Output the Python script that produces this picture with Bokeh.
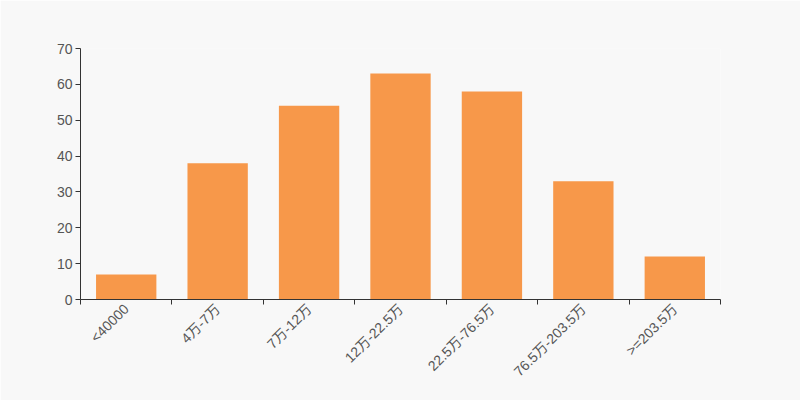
import math
from bokeh.plotting import figure
from bokeh.models import Range1d, FixedTicker, ColumnDataSource
from bokeh.embed import file_html
from bokeh.resources import INLINE

categories = ["<40000", "4万-7万", "7万-12万", "12万-22.5万", "22.5万-76.5万", "76.5万-203.5万", ">=203.5万"]
values = [7, 38, 54, 63, 58, 33, 12]
y_ticks = [0, 10, 20, 30, 40, 50, 60, 70]

n = len(categories)
centers = [i + 0.5 for i in range(n)]
bounds = list(range(n + 1))

src = ColumnDataSource(dict(x=centers, top=values, cat=categories))

p = figure(width=800, height=400, output_backend="svg", toolbar_location=None,
           x_range=Range1d(0, n), y_range=Range1d(0, 70),
           min_border_left=80, min_border_right=80, min_border_top=48, min_border_bottom=101)
p.background_fill_color = "#f8f8f8"
p.border_fill_color = "#f8f8f8"
p.outline_line_color = None
p.xgrid.visible = False
p.ygrid.visible = False

p.vbar(x="x", top="top", width=0.66, bottom=0, source=src, color="#f7984a", line_color=None)

FONT = "Arial, 'Liberation Sans', 'Noto Sans CJK SC', sans-serif"

xa = p.xaxis[0]
xa.ticker = FixedTicker(ticks=centers, minor_ticks=bounds)
xa.major_label_overrides = {c: lab for c, lab in zip(centers, categories)}
xa.major_label_orientation = math.pi / 4
xa.major_tick_line_color = None
xa.major_tick_out = 0
xa.minor_tick_line_color = "#333333"
xa.minor_tick_out = 5
xa.minor_tick_in = 0
xa.axis_line_color = "#333333"
xa.major_label_text_font = FONT
xa.major_label_text_font_size = "14px"
xa.major_label_text_color = "#555555"
xa.major_label_standoff = 2

ya = p.yaxis[0]
ya.ticker = FixedTicker(ticks=y_ticks)
ya.minor_tick_line_color = None
ya.major_tick_line_color = "#333333"
ya.major_tick_out = 5
ya.major_tick_in = 0
ya.axis_line_color = "#333333"
ya.major_label_text_font = FONT
ya.major_label_text_font_size = "14px"
ya.major_label_text_color = "#555555"
ya.major_label_standoff = 3

open("out.html", "w").write(file_html(p, INLINE))
